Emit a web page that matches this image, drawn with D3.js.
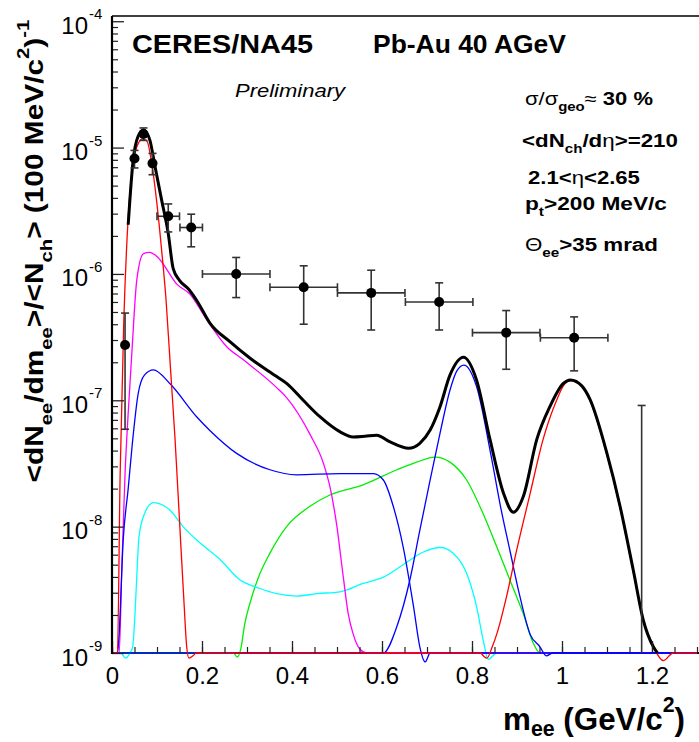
<!DOCTYPE html>
<html>
<head>
<meta charset="utf-8">
<script src="https://cdnjs.cloudflare.com/ajax/libs/d3/7.8.5/d3.min.js"></script>
<style>
  body { margin: 0; background: #fff; }
  svg { display: block; }
  text { font-family: "Liberation Sans", Arial, Helvetica, sans-serif; white-space: pre; }
</style>
</head>
<body>
<svg id="chart" width="699" height="742"></svg>
<script>
// measured points (mass in GeV/c^2, yield per 100 MeV/c^2)
const dataMass = [0.029, 0.050, 0.070, 0.090, 0.125, 0.176, 0.276, 0.426, 0.576, 0.727, 0.876, 1.027, 1.177];
const dataYield = [2.74e-7, 8.2e-6, 1.28e-5, 7.5e-6, 2.86e-6, 2.33e-6, 1.0e-6, 7.85e-7, 7.08e-7, 6.0e-7, 3.43e-7, 3.13e-7, 5e-10];
const dataErrHigh = [4.9e-7, 9.5e-6, 1.43e-5, 9.0e-6, 3.58e-6, 2.97e-6, 1.35e-6, 1.16e-6, 1.07e-6, 8.5e-7, 5.13e-7, 4.57e-7, 9.1e-8];
const dataErrLow = [5.9e-8, 6.9e-6, 1.14e-5, 6.1e-6, 2.15e-6, 1.64e-6, 6.5e-7, 4.0e-7, 3.6e-7, 3.6e-7, 1.76e-7, 1.71e-7, 1e-9];
const binHalfWidth = [0, 0, 0, 0, 0.025, 0.025, 0.075, 0.075, 0.075, 0.075, 0.075, 0.075, 0];

// cocktail curves, [mass, yield]
const redLow = [[0,1e-9],[0.012,1e-9],[0.018,2.5e-8],[0.026,3.98e-7],[0.036,2.82e-6],[0.048,7.94e-6],[0.058,1.07e-5],
  [0.068,1.17e-5],[0.078,1.12e-5],[0.088,7.59e-6],[0.1,3.55e-6],[0.11,1.58e-6],[0.12,6.3e-7],[0.13,1.78e-7],
  [0.14,5.0e-8],[0.15,1.12e-8],[0.16,2.51e-9],[0.166,1.12e-9],[0.171,9.12e-10],[0.18,9.5e-10],[0.187,1e-9],[0.82,1e-9]];
const redPhi = [[0.82,1e-9],[0.833,9.1e-10],[0.845,1.12e-9],[0.855,1.41e-9],[0.877,2.82e-9],[0.899,6.46e-9],[0.929,1.82e-8],
  [0.958,4.9e-8],[0.988,1.0e-7],[1.003,1.3e-7],[1.019,1.43e-7],[1.044,1.29e-7],[1.062,1.0e-7],[1.099,3.8e-8],
  [1.129,1.41e-8],[1.158,4.47e-9],[1.181,1.78e-9],[1.203,1.12e-9],[1.225,8.7e-10],[1.247,1e-9],[1.3,1e-9]];
const magentaEta = [[0,1e-9],[0.016,1e-9],[0.0215,4.27e-9],[0.029,2.63e-8],[0.036,7.94e-8],[0.044,2.34e-7],[0.055,8.9e-7],
  [0.07,1.45e-6],[0.084,1.48e-6],[0.096,1.41e-6],[0.107,1.29e-6],[0.144,8.3e-7],[0.173,6.92e-7],[0.21,4.37e-7],
  [0.255,2.65e-7],[0.292,2.09e-7],[0.366,1.26e-7],[0.388,1.05e-7],[0.44,5.37e-8],[0.47,3.16e-8],[0.484,2.09e-8],
  [0.499,1.05e-8],[0.514,3.98e-9],[0.525,2.04e-9],[0.536,1.41e-9],[0.551,1.07e-9],[0.566,1e-9],[1.3,1e-9]];
const blueEtaPrime = [[0,1e-9],[0.012,1e-9],[0.015,1.26e-9],[0.025,7.94e-9],[0.036,2.0e-8],[0.045,4.47e-8],[0.058,1.12e-7],
  [0.072,1.58e-7],[0.092,1.74e-7],[0.129,1.35e-7],[0.188,7.41e-8],[0.218,5.75e-8],[0.277,3.8e-8],[0.351,2.82e-8],
  [0.41,2.57e-8],[0.507,2.63e-8],[0.581,2.63e-8],[0.603,2.34e-8],[0.625,1.45e-8],[0.647,6.92e-9],[0.67,2.34e-9],
  [0.684,1.12e-9],[0.696,8.5e-10],[0.707,1e-9],[1.3,1e-9]];
const blueOmega = [[0,1e-9],[0.603,1e-9],[0.633,1.62e-9],[0.662,3.8e-9],[0.684,9.33e-9],[0.707,2.34e-8],[0.729,5.5e-8],
  [0.751,1.2e-7],[0.766,1.7e-7],[0.782,1.9e-7],[0.81,1.29e-7],[0.843,3.55e-8],[0.865,1.35e-8],[0.885,6.3e-9],
  [0.905,2.95e-9],[0.929,1.41e-9],[0.951,1.12e-9],[0.965,9.5e-10],[0.98,1e-9],[1.3,1e-9]];
const greenRho = [[0,1e-9],[0.27,1e-9],[0.278,9.3e-10],[0.286,1.07e-9],[0.295,1.7e-9],[0.307,2.51e-9],[0.329,4.27e-9],
  [0.351,6.17e-9],[0.388,1.0e-8],[0.44,1.45e-8],[0.484,1.78e-8],[0.558,2.14e-8],[0.633,2.82e-8],[0.677,3.24e-8],
  [0.718,3.55e-8],[0.751,3.24e-8],[0.788,2.34e-8],[0.825,1.26e-8],[0.855,6.92e-9],[0.884,3.8e-9],[0.914,2.04e-9],
  [0.936,1.2e-9],[0.951,1e-9],[1.3,1e-9]];
const cyanOmegaDalitz = [[0,1e-9],[0.02,1e-9],[0.03,9.1e-10],[0.04,1e-9],[0.046,1.12e-9],[0.051,2.0e-9],[0.055,3.98e-9],
  [0.06,8.3e-9],[0.072,1.26e-8],[0.092,1.55e-8],[0.129,1.35e-8],[0.158,1.0e-8],[0.196,7.41e-9],[0.24,5.5e-9],
  [0.284,3.8e-9],[0.329,3.24e-9],[0.366,2.95e-9],[0.41,2.82e-9],[0.455,2.95e-9],[0.507,3.05e-9],[0.558,3.55e-9],
  [0.603,3.98e-9],[0.647,5.0e-9],[0.692,6.3e-9],[0.729,6.84e-9],[0.758,6.17e-9],[0.788,4.27e-9],[0.81,2.34e-9],
  [0.825,1.26e-9],[0.836,8.9e-10],[0.855,1e-9],[1.3,1e-9]];
const blackSum = [[0.036,2.45e-6],[0.047,7.94e-6],[0.058,1.23e-5],[0.07,1.38e-5],[0.084,1.15e-5],[0.0956,7.08e-6],
  [0.11,3.89e-6],[0.125,2.09e-6],[0.136,1.1e-6],[0.15,8.9e-7],[0.17,7.59e-7],[0.19,6.03e-7],[0.218,4.07e-7],
  [0.262,2.91e-7],[0.307,2.15e-7],[0.366,1.54e-7],[0.388,1.36e-7],[0.425,1.0e-7],[0.462,7.41e-8],[0.507,5.62e-8],
  [0.536,5.13e-8],[0.562,5.2e-8],[0.588,5.3e-8],[0.618,4.68e-8],[0.659,4.17e-8],[0.684,4.57e-8],[0.707,5.82e-8],
  [0.729,8.9e-8],[0.751,1.58e-7],[0.781,2.19e-7],[0.81,1.45e-7],[0.84,4.9e-8],[0.87,1.84e-8],[0.892,1.3e-8],
  [0.914,1.73e-8],[0.944,4.9e-8],[0.973,8.9e-8],[1.003,1.36e-7],[1.019,1.45e-7],[1.044,1.3e-7],[1.062,1.02e-7],
  [1.099,3.9e-8],[1.129,1.45e-8],[1.158,4.6e-9],[1.181,1.8e-9],[1.203,1.12e-9],[1.212,1e-9]];

// axis ticks
const xTicks = [0, 0.2, 0.4, 0.6, 0.8, 1.0, 1.2];
const xTickLabels = ["0", "0.2", "0.4", "0.6", "0.8", "1", "1.2"];
const yDecades = [-9, -8, -7, -6, -5, -4];

const svg = d3.select("#chart");

const area = { left: 112, right: 697, top: 16, bottom: 653 };

const x = d3.scaleLinear().domain([0, 1.3]).range([area.left, area.right]);
const y = d3.scaleLog().domain([1e-9, 1.1e-4]).range([area.bottom, area.top]);

// text with sub/superscripts, stretched to a measured width
function richText(parent, segs, size, opt) {
  const t = parent.append("text")
    .attr("font-size", size)
    .attr("font-weight", opt.weight || "bold")
    .attr("font-style", opt.italic ? "italic" : "normal")
    .attr("fill", "#000");
  const subShift = opt.sub || 0.36;
  let shift = 0;
  segs.forEach(([s, kind]) => {
    const target = kind === "sub" ? size * subShift : kind === "sup" ? -size * 0.55 : 0;
    const ts = t.append("tspan").text(s).attr("dy", target - shift);
    if (kind === "sub" || kind === "sup") ts.attr("font-size", size * 0.68);
    if (kind === "sym") ts.attr("font-weight", "normal");
    shift = target;
  });
  const w = t.node().getComputedTextLength();
  const sx = opt.width ? opt.width / w : 1;
  const rot = opt.rotate ? ` rotate(${opt.rotate})` : "";
  const dx = opt.anchor === "middle" ? -w / 2 : 0;
  t.attr("x", dx).attr("transform", `translate(${opt.x},${opt.y})${rot} scale(${sx},1)`);
  return t;
}

// ---- curves ----
const line = d3.line()
  .x(d => x(d[0]))
  .y(d => y(d[1]))
  .curve(d3.curveMonotoneX);

// bottom axis line, under the curves
svg.append("line").attr("x1", area.left).attr("x2", 699).attr("y1", area.bottom).attr("y2", area.bottom)
  .attr("stroke", "#000").attr("stroke-width", 2.2);

const curves = [
  { d: greenRho, c: "#00ee00", w: 1.3 },
  { d: cyanOmegaDalitz, c: "#00ffff", w: 1.3 },
  { d: magentaEta, c: "#ff00ff", w: 1.3 },
  { d: blueEtaPrime, c: "#0000ff", w: 1.3 },
  { d: blueOmega, c: "#0000ff", w: 1.3 },
  { d: redLow, c: "#ff0000", w: 1.3 },
  { d: redPhi, c: "#ff0000", w: 1.3 },
  { d: blackSum, c: "#000000", w: 3 }
];
curves.forEach(cv => {
  svg.append("path")
    .datum(cv.d)
    .attr("d", line)
    .attr("fill", "none")
    .attr("stroke", cv.c)
    .attr("stroke-width", cv.w)
    .attr("stroke-linejoin", "round");
});

// ---- axes ----
const xMinor = d3.range(0, 1.3001, 0.05);
svg.append("g")
  .attr("transform", `translate(0,${area.bottom})`)
  .call(d3.axisBottom(x).tickValues(xMinor).tickSize(-6).tickFormat(""))
  .call(g => g.select(".domain").remove())
  .call(g => g.selectAll("line").attr("stroke", "#222").attr("stroke-width", 1.2));

svg.append("g")
  .attr("transform", `translate(0,${area.bottom})`)
  .call(d3.axisBottom(x).tickValues(xTicks).tickSize(-12).tickPadding(14)
    .tickFormat((d, i) => xTickLabels[i]))
  .call(g => g.select(".domain").remove())
  .call(g => g.selectAll("line").attr("stroke", "#222").attr("stroke-width", 1.3))
  .call(g => g.selectAll("text").attr("font-size", 24).attr("fill", "#000")
    .attr("font-family", "'Liberation Sans', Arial, sans-serif"));

const yMinor = [];
yDecades.slice(0, -1).forEach(k => { for (let m = 2; m <= 9; m++) yMinor.push(m * Math.pow(10, k)); });
svg.append("g")
  .attr("transform", `translate(${area.left},0)`)
  .call(d3.axisRight(y).tickValues(yMinor).tickSize(6).tickFormat(""))
  .call(g => g.select(".domain").remove())
  .call(g => g.selectAll("line").attr("stroke", "#222").attr("stroke-width", 1.2));
svg.append("g")
  .attr("transform", `translate(${area.left},0)`)
  .call(d3.axisRight(y).tickValues(yDecades.map(k => Math.pow(10, k))).tickSize(12).tickFormat(""))
  .call(g => g.select(".domain").remove())
  .call(g => g.selectAll("line").attr("stroke", "#222").attr("stroke-width", 1.3));

// y tick labels 10^k
yDecades.forEach(k => {
  const yy = y(Math.pow(10, k));
  svg.append("text").attr("x", 88).attr("y", yy + 12.5).attr("text-anchor", "end")
    .attr("font-size", 24).text("10");
  svg.append("text").attr("x", 89).attr("y", yy - 2).attr("font-size", 15).text(String(k));
});

// frame
svg.append("line").attr("x1", area.left).attr("x2", 699).attr("y1", area.top).attr("y2", area.top)
  .attr("stroke", "#000").attr("stroke-width", 1.5);
svg.append("line").attr("x1", area.left).attr("x2", area.left).attr("y1", area.top).attr("y2", area.bottom + 1)
  .attr("stroke", "#000").attr("stroke-width", 2.2);

// ---- data points ----
const pts = dataMass.map((m, i) => ({
  m, v: dataYield[i], hi: dataErrHigh[i], lo: dataErrLow[i], hw: binHalfWidth[i]
}));
const clampY = v => Math.min(area.bottom, y(Math.max(v, 1e-9)));
const cap = 4;
const eb = svg.append("g").attr("stroke", "#333").attr("stroke-width", 1.6);
pts.forEach(p => {
  const cx = x(p.m), cy = y(p.v);
  eb.append("line").attr("x1", cx).attr("x2", cx).attr("y1", y(p.hi)).attr("y2", clampY(p.lo));
  eb.append("line").attr("x1", cx - cap).attr("x2", cx + cap).attr("y1", y(p.hi)).attr("y2", y(p.hi));
  if (p.lo > 1e-9) {
    eb.append("line").attr("x1", cx - cap).attr("x2", cx + cap).attr("y1", y(p.lo)).attr("y2", y(p.lo));
  }
  if (p.hw > 0) {
    const x0 = x(p.m - p.hw), x1 = x(p.m + p.hw);
    eb.append("line").attr("x1", x0).attr("x2", x1).attr("y1", cy).attr("y2", cy);
    eb.append("line").attr("x1", x0).attr("x2", x0).attr("y1", cy - cap).attr("y2", cy + cap);
    eb.append("line").attr("x1", x1).attr("x2", x1).attr("y1", cy - cap).attr("y2", cy + cap);
  }
});
svg.append("g").selectAll("circle")
  .data(pts.filter(p => p.v >= 1e-9))
  .join("circle")
  .attr("cx", d => x(d.m))
  .attr("cy", d => y(d.v))
  .attr("r", 5)
  .attr("fill", "#000");

// ---- labels ----
richText(svg, [["CERES/NA45", ""]], 25, { x: 132, y: 53, width: 181 });
richText(svg, [["Pb-Au 40 AGeV", ""]], 25, { x: 373, y: 53, width: 193 });
richText(svg, [["Preliminary", ""]], 19, { x: 235, y: 97, width: 110, weight: "normal", italic: true });

richText(svg, [["σ/σ", "sym"], ["geo", "sub"], ["≈", "sym"], [" 30 %", ""]], 18, { x: 525, y: 105, width: 128 });
richText(svg, [["<dN", ""], ["ch", "sub"], ["/d", ""], ["η", "sym"], [">=210", ""]], 18, { x: 522, y: 147, width: 156 });
richText(svg, [["2.1<", ""], ["η", "sym"], ["<2.65", ""]], 18, { x: 528, y: 184, width: 112 });
richText(svg, [["p", ""], ["t", "sub"], [">200 MeV/c", ""]], 18, { x: 525, y: 210, width: 142 });
richText(svg, [["Θ", "sym"], ["ee", "sub"], [">35 mrad", ""]], 18, { x: 525, y: 251, width: 133 });

richText(svg, [["m", ""], ["ee", "sub"], [" (GeV/c", ""], ["2", "sup"], [")", ""]], 32,
  { x: 503, y: 730, width: 182, sub: 0.2 });
richText(svg, [["<dN", ""], ["ee", "sub"], ["/dm", ""], ["ee", "sub"], [">/<N", ""], ["ch", "sub"],
  ["> (100 MeV/c", ""], ["2", "sup"], [")", ""], ["-1", "sup"]], 25,
  { x: 43, y: 251, width: 463, rotate: -90, anchor: "middle" });
</script>
</body>
</html>
